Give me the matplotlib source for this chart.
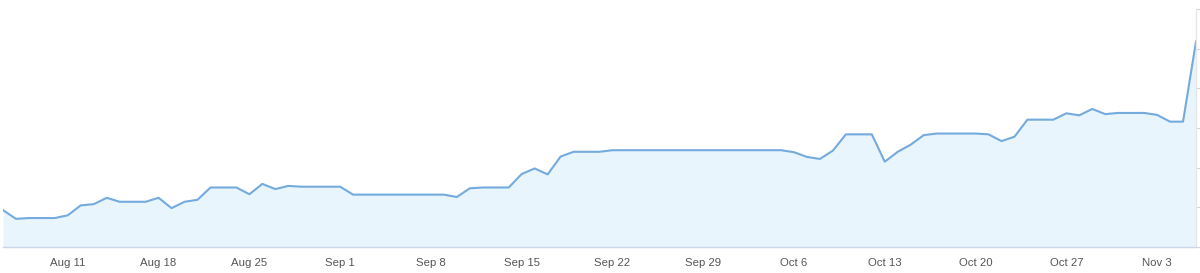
"""Daily area chart, Aug 6 - Nov 6, Highcharts-like styling."""

import matplotlib

matplotlib.use("Agg")
import matplotlib.pyplot as plt
import pandas as pd

START_DATE = "2024-08-06"

VALUES = [
    0.93, 0.71, 0.73, 0.73, 0.73, 0.80, 1.05, 1.08, 1.24, 1.14,
    1.14, 1.14, 1.24, 0.98, 1.14, 1.19, 1.50, 1.50, 1.50, 1.33,
    1.59, 1.46, 1.54, 1.52, 1.52, 1.52, 1.52, 1.32, 1.32, 1.32,
    1.32, 1.32, 1.32, 1.32, 1.32, 1.26, 1.48, 1.50, 1.50, 1.50,
    1.84, 1.98, 1.83, 2.28, 2.40, 2.40, 2.40, 2.44, 2.44, 2.44,
    2.44, 2.44, 2.44, 2.44, 2.44, 2.44, 2.44, 2.44, 2.44, 2.44,
    2.44, 2.39, 2.27, 2.22, 2.43, 2.84, 2.84, 2.84, 2.15, 2.40,
    2.58, 2.82, 2.86, 2.86, 2.86, 2.86, 2.84, 2.67, 2.78, 3.21,
    3.21, 3.21, 3.37, 3.32, 3.48, 3.35, 3.38, 3.38, 3.38, 3.33,
    3.16, 3.16, 5.18,
]

TICK_DATES = [
    "2024-08-11", "2024-08-18", "2024-08-25", "2024-09-01", "2024-09-08",
    "2024-09-15", "2024-09-22", "2024-09-29", "2024-10-06", "2024-10-13",
    "2024-10-20", "2024-10-27", "2024-11-03",
]
TICK_LABELS = [
    "Aug 11", "Aug 18", "Aug 25", "Sep 1", "Sep 8", "Sep 15", "Sep 22",
    "Sep 29", "Oct 6", "Oct 13", "Oct 20", "Oct 27", "Nov 3",
]
Y_TICKS = [0, 1, 2, 3, 4, 5, 6]

LINE_COLOR = "#74aadd"
FILL_COLOR = "#e9f5fd"
AXIS_COLOR = "#ccd6eb"
LABEL_COLOR = "#555555"


def main() -> None:
    dates = pd.date_range(START_DATE, periods=len(VALUES), freq="D")

    plt.rcParams["font.family"] = ["Liberation Sans", "DejaVu Sans"]
    fig = plt.figure(figsize=(12, 2.73), dpi=100)
    ax = fig.add_axes([3 / 1200, 26 / 273, 1193 / 1200, 238 / 273])

    ax.fill_between(dates, VALUES, 0, color=FILL_COLOR, linewidth=0)
    ax.plot(dates, VALUES, color=LINE_COLOR, linewidth=1.5,
            solid_joinstyle="round")

    ax.set_xlim(dates[0], dates[-1])
    ax.set_ylim(0, 6)

    ax.set_xticks(pd.to_datetime(TICK_DATES))
    ax.set_xticklabels(TICK_LABELS)
    ax.tick_params(axis="x", length=0, pad=8, labelsize=8.2, colors=LABEL_COLOR)

    ax.yaxis.tick_right()
    ax.set_yticks(Y_TICKS)
    ax.set_yticklabels([])
    ax.tick_params(axis="y", length=4, width=0.8, color=AXIS_COLOR, direction="out")

    for side in ("left", "top"):
        ax.spines[side].set_visible(False)
    ax.spines["bottom"].set_color(AXIS_COLOR)
    ax.spines["right"].set_color("#e6e6e6")
    ax.spines["bottom"].set_linewidth(1)
    ax.spines["right"].set_linewidth(1)

    fig.savefig("out.png", dpi=100)


if __name__ == "__main__":
    main()
